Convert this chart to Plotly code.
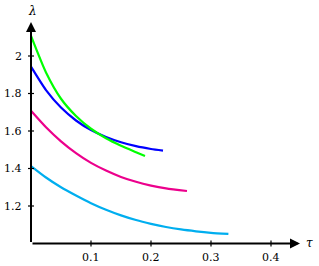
import plotly.graph_objects as go

# ---- data ----
tau_cyan = [0.0, 0.025, 0.05, 0.075, 0.1, 0.125, 0.15, 0.175, 0.2, 0.225, 0.25, 0.275, 0.3, 0.329]
lam_cyan = [1.413, 1.352, 1.300, 1.256, 1.215, 1.180, 1.150, 1.125, 1.105, 1.088, 1.075, 1.065, 1.057, 1.051]

tau_magenta = [0.0, 0.025, 0.05, 0.075, 0.1, 0.125, 0.15, 0.175, 0.2, 0.225, 0.26]
lam_magenta = [1.708, 1.620, 1.545, 1.482, 1.430, 1.389, 1.355, 1.329, 1.309, 1.294, 1.280]

tau_blue = [0.0, 0.025, 0.05, 0.075, 0.1, 0.125, 0.15, 0.175, 0.2, 0.22]
lam_blue = [1.943, 1.818, 1.725, 1.656, 1.605, 1.568, 1.540, 1.519, 1.504, 1.495]

tau_green = [0.0, 0.025, 0.05, 0.075, 0.1, 0.125, 0.15, 0.175, 0.19]
lam_green = [2.107, 1.912, 1.772, 1.680, 1.612, 1.561, 1.521, 1.487, 1.467]

x_ticks = [0.1, 0.2, 0.3, 0.4]
x_tick_labels = ["0.1", "0.2", "0.3", "0.4"]
y_ticks = [1.2, 1.4, 1.6, 1.8, 2.0]
y_tick_labels = ["1.2", "1.4", "1.6", "1.8", "2"]

series = [
    (tau_cyan, lam_cyan, "#00AEEF"),
    (tau_magenta, lam_magenta, "#EC008C"),
    (tau_blue, lam_blue, "#0000FF"),
    (tau_green, lam_green, "#00FF00"),
]

# pixel geometry -> data ranges
W, H = 319, 266
x0_px, px_per_x = 31, 600.0
y0_px, px_per_y = 243.5, 187.5
x_range = [-x0_px / px_per_x, (W - x0_px) / px_per_x]
y_range = [1 - (H - y0_px) / px_per_y, 1 + y0_px / px_per_y]
x_end = (300 - x0_px) / px_per_x
y_end = 1 + (y0_px - 22) / px_per_y

fig = go.Figure()
for t, l, c in series:
    fig.add_trace(go.Scatter(x=t, y=l, mode="lines",
                             line=dict(color=c, width=2.2, shape="spline", smoothing=0.6),
                             showlegend=False, hoverinfo="skip", cliponaxis=False))

serif = "DejaVu Serif"
font = dict(family=serif, size=11, color="black")

# axes with arrows
fig.add_annotation(x=x_end, y=1, ax=0, ay=1, xref="x", yref="y", axref="x", ayref="y",
                   showarrow=True, arrowhead=2, arrowsize=1, arrowwidth=2, arrowcolor="black", text="")
fig.add_annotation(x=0, y=y_end, ax=0, ay=1, xref="x", yref="y", axref="x", ayref="y",
                   showarrow=True, arrowhead=2, arrowsize=1, arrowwidth=2, arrowcolor="black", text="")

tick_dx = 3 / px_per_x
tick_dy = 3 / px_per_y
for xv, lab in zip(x_ticks, x_tick_labels):
    fig.add_shape(type="line", x0=xv, x1=xv, y0=1 - tick_dy, y1=1 + tick_dy,
                  line=dict(color="black", width=1.2))
    fig.add_annotation(x=xv, y=1, xref="x", yref="y", text=lab, showarrow=False,
                       yshift=-14, font=font)
for yv, lab in zip(y_ticks, y_tick_labels):
    fig.add_shape(type="line", x0=-tick_dx, x1=tick_dx, y0=yv, y1=yv,
                  line=dict(color="black", width=1.2))
    fig.add_annotation(x=0, y=yv, xref="x", yref="y", text=lab, showarrow=False,
                       xanchor="right", xshift=-7, font=font)

fig.add_annotation(x=0, y=1 + (y0_px - 11) / px_per_y, xref="x", yref="y", text="<i>λ</i>",
                   showarrow=False, xshift=1, font=dict(family=serif, size=12, color="black"))
fig.add_annotation(x=(309 - x0_px) / px_per_x, y=1, xref="x", yref="y", text="<i>τ</i>",
                   showarrow=False, yshift=1, font=dict(family=serif, size=12, color="black"))

fig.update_layout(
    width=W, height=H,
    margin=dict(l=0, r=0, t=0, b=0),
    paper_bgcolor="white", plot_bgcolor="white",
    xaxis=dict(range=x_range, visible=False, fixedrange=True),
    yaxis=dict(range=y_range, visible=False, fixedrange=True),
)
fig.write_html("out.html", config={"displayModeBar": False},
               post_script="document.body.style.margin='0';document.body.style.padding='0';")
